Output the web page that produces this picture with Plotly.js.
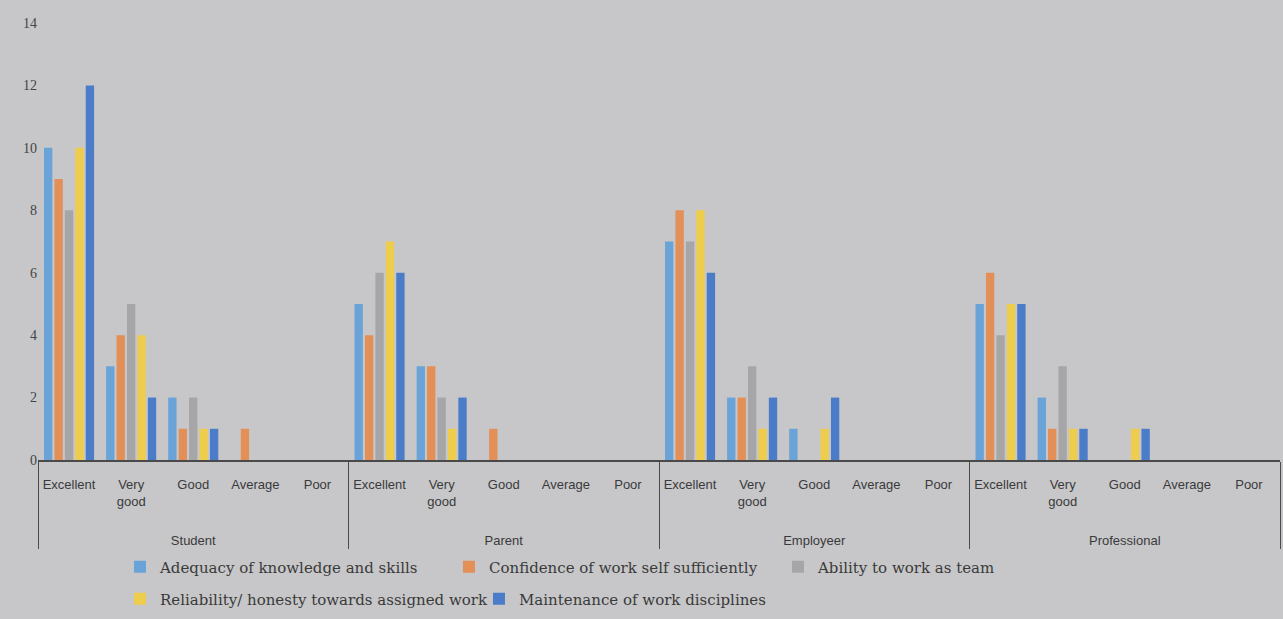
<!DOCTYPE html>
<html>
<head>
<meta charset="utf-8">
<script src="https://cdn.plot.ly/plotly-3.0.1.min.js"></script>
<style>html,body{margin:0;padding:0;background:#c7c7c9;}#chart{width:1283px;height:619px;}</style>
</head>
<body>
<div id="chart"></div>
<script>
const groups = ["Student", "Parent", "Employeer", "Professional"];
const ratings = ["Excellent", "Very<br>good", "Good", "Average", "Poor"];
const seriesNames = [
  "Adequacy of knowledge and skills",
  "Confidence of work self sufficiently",
  "Ability to work as team",
  "Reliability/ honesty towards assigned work",
  "Maintenance of work disciplines"
];
// values per series, ordered Student(E,VG,G,A,P), Parent(...), Employeer(...), Professional(...)
const adequacy    = [10,3,2,0,0,  5,3,0,0,0,  7,2,1,0,0,  5,2,0,0,0];
const confidence  = [9,4,1,1,0,   4,3,1,0,0,  8,2,0,0,0,  6,1,0,0,0];
const teamwork    = [8,5,2,0,0,   6,2,0,0,0,  7,3,0,0,0,  4,3,0,0,0];
const reliability = [10,4,1,0,0,  7,1,0,0,0,  8,1,1,0,0,  5,1,1,0,0];
const discipline  = [12,2,1,0,0,  6,2,0,0,0,  6,2,2,0,0,  5,1,1,0,0];
const yTicks = [0,2,4,6,8,10,12,14];

const colors = ["#6aa3d8", "#e38f58", "#a6a6a8", "#efcd4c", "#4a7cc8"];
const allValues = [adequacy, confidence, teamwork, reliability, discipline];

// group labels sit lower in the reference: push them down with blank leading lines
const xGroup = [], xRating = [];
groups.forEach(g => ratings.forEach(r => { xGroup.push("<br><br>" + g); xRating.push(r); }));

const traces = allValues.map((vals, i) => ({
  type: "bar",
  name: seriesNames[i],
  x: [xGroup, xRating],
  y: vals,
  marker: {color: colors[i]},
  legend: i < 3 ? "legend" : "legend2",
  hoverinfo: "y+name"
}));

const legendFont = {family: "DejaVu Serif, Liberation Serif, serif", size: 15, color: "#3a3a3a"};

const layout = {
  width: 1283, height: 619,
  margin: {l: 38, r: 3, t: 23, b: 159},
  paper_bgcolor: "#c7c7c9",
  plot_bgcolor: "#c7c7c9",
  barmode: "group",
  bargap: 0.16,
  bargroupgap: 0.2,
  font: {family: "Liberation Sans, Arial, sans-serif", color: "#3a3a3a", size: 13},
  xaxis: {
    type: "multicategory",
    showline: true, linecolor: "#4a4a4a", linewidth: 1.5,
    showgrid: false, zeroline: false,
    ticks: "",
    ticklabelstandoff: 12,
    showdividers: true, dividercolor: "#4a4a4a", dividerwidth: 1,
    tickfont: {family: "Liberation Sans, Arial, sans-serif", size: 13, color: "#3a3a3a"}
  },
  yaxis: {
    range: [0, 14],
    tickvals: yTicks,
    ticktext: yTicks.map(String),
    showgrid: false, zeroline: false, showline: false,
    ticks: "",
    tickfont: {family: "Liberation Serif, Times New Roman, serif", size: 14, color: "#444"}
  },
  showlegend: true,
  legend: {
    orientation: "h",
    x: 0.066, xanchor: "left",
    y: -0.245, yanchor: "middle",
    entrywidth: 284, entrywidthmode: "pixels",
    itemwidth: 30,
    bgcolor: "rgba(0,0,0,0)",
    font: legendFont
  },
  legend2: {
    orientation: "h",
    x: 0.066, xanchor: "left",
    y: -0.318, yanchor: "middle",
    entrywidth: 314, entrywidthmode: "pixels",
    itemwidth: 30,
    bgcolor: "rgba(0,0,0,0)",
    font: legendFont
  }
};

Plotly.newPlot("chart", traces, layout, {displayModeBar: false, staticPlot: true});
</script>
</body>
</html>
